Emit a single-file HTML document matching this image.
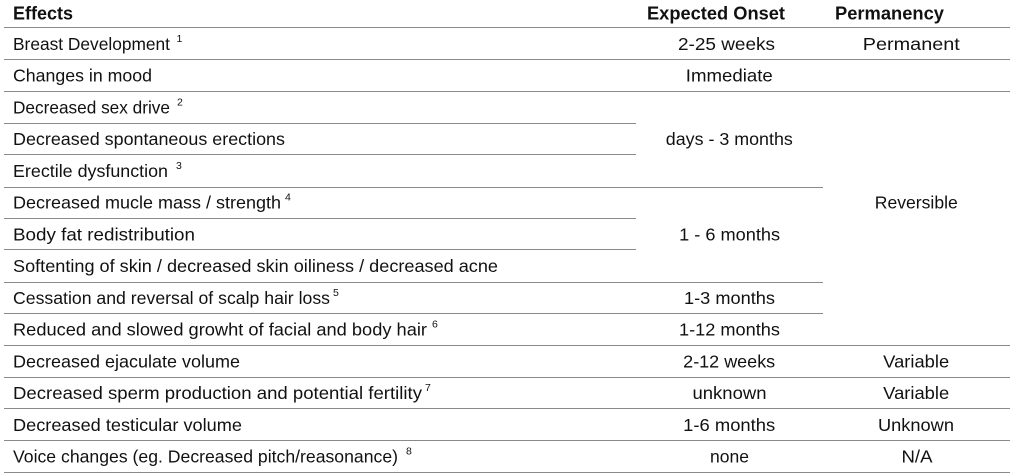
<!DOCTYPE html>
<html><head><meta charset="utf-8"><style>
html,body{margin:0;padding:0;background:#fff;}
svg{display:block;}
text{font-family:"Liberation Sans",Arial,sans-serif;font-size:17.5px;fill:#111;}
.h{font-weight:bold;font-size:18px;}
.m{text-anchor:middle;}
.s{font-size:10.5px;}
line{stroke:#8a8a8a;stroke-width:1;}
</style></head><body>
<svg width="1024" height="476" viewBox="0 0 1024 476" xmlns="http://www.w3.org/2000/svg">
<g>
<line x1="4" y1="27.5" x2="1010" y2="27.5"/>
<line x1="4" y1="59.5" x2="1010" y2="59.5"/>
<line x1="4" y1="91.5" x2="1010" y2="91.5"/>
<line x1="4" y1="123.5" x2="636" y2="123.5"/>
<line x1="4" y1="154.5" x2="636" y2="154.5"/>
<line x1="4" y1="187.5" x2="823" y2="187.5"/>
<line x1="4" y1="218.5" x2="636" y2="218.5"/>
<line x1="4" y1="249.5" x2="636" y2="249.5"/>
<line x1="4" y1="282.5" x2="823" y2="282.5"/>
<line x1="4" y1="313.5" x2="823" y2="313.5"/>
<line x1="4" y1="345.5" x2="1010" y2="345.5"/>
<line x1="4" y1="377.5" x2="1010" y2="377.5"/>
<line x1="4" y1="408.5" x2="1010" y2="408.5"/>
<line x1="4" y1="440.5" x2="1010" y2="440.5"/>
<line x1="4" y1="472.5" x2="1010" y2="472.5"/>
</g>
<text class="h" x="13" y="19.5" textLength="60" lengthAdjust="spacingAndGlyphs">Effects</text>
<text class="h" x="647" y="19.5" textLength="138" lengthAdjust="spacingAndGlyphs">Expected Onset</text>
<text class="h" x="835" y="19.5" textLength="109" lengthAdjust="spacingAndGlyphs">Permanency</text>

<text x="13" y="50" textLength="157" lengthAdjust="spacingAndGlyphs">Breast Development</text>
<text class="s" x="176.5" y="42">1</text>
<text x="13" y="81.7" textLength="139" lengthAdjust="spacingAndGlyphs">Changes in mood</text>
<text x="13" y="113.5" textLength="157" lengthAdjust="spacingAndGlyphs">Decreased sex drive</text>
<text class="s" x="177" y="105.5">2</text>
<text x="13" y="145.2" textLength="272" lengthAdjust="spacingAndGlyphs">Decreased spontaneous erections</text>
<text x="13" y="177" textLength="155" lengthAdjust="spacingAndGlyphs">Erectile dysfunction</text>
<text class="s" x="176" y="169">3</text>
<text x="13" y="208.7" textLength="268" lengthAdjust="spacingAndGlyphs">Decreased mucle mass / strength</text>
<text class="s" x="285" y="200.7">4</text>
<text x="13" y="240.4" textLength="182" lengthAdjust="spacingAndGlyphs">Body fat redistribution</text>
<text x="13" y="272.2" textLength="485" lengthAdjust="spacingAndGlyphs">Softenting of skin / decreased skin oiliness / decreased acne</text>
<text x="13" y="303.9" textLength="317" lengthAdjust="spacingAndGlyphs">Cessation and reversal of scalp hair loss</text>
<text class="s" x="333" y="295.9">5</text>
<text x="13" y="335.7" textLength="414" lengthAdjust="spacingAndGlyphs">Reduced and slowed growht of facial and body hair</text>
<text class="s" x="432" y="327.7">6</text>
<text x="13" y="367.4" textLength="227" lengthAdjust="spacingAndGlyphs">Decreased ejaculate volume</text>
<text x="13" y="399.1" textLength="409" lengthAdjust="spacingAndGlyphs">Decreased sperm production and potential fertility</text>
<text class="s" x="425" y="391.1">7</text>
<text x="13" y="430.9" textLength="229" lengthAdjust="spacingAndGlyphs">Decreased testicular volume</text>
<text x="13" y="462.6" textLength="385" lengthAdjust="spacingAndGlyphs">Voice changes (eg. Decreased pitch/reasonance)</text>
<text class="s" x="406" y="454.6">8</text>

<text class="m" x="726.5" y="50" textLength="97" lengthAdjust="spacingAndGlyphs">2-25 weeks</text>
<text class="m" x="729.3" y="81.7" textLength="87" lengthAdjust="spacingAndGlyphs">Immediate</text>
<text class="m" x="729.3" y="145.2" textLength="127" lengthAdjust="spacingAndGlyphs">days - 3 months</text>
<text class="m" x="729.6" y="240.4" textLength="101" lengthAdjust="spacingAndGlyphs">1 - 6 months</text>
<text class="m" x="729.5" y="303.9" textLength="91" lengthAdjust="spacingAndGlyphs">1-3 months</text>
<text class="m" x="729.5" y="335.7" textLength="101" lengthAdjust="spacingAndGlyphs">1-12 months</text>
<text class="m" x="729.2" y="367.4" textLength="92" lengthAdjust="spacingAndGlyphs">2-12 weeks</text>
<text class="m" x="729.5" y="399.1" textLength="74" lengthAdjust="spacingAndGlyphs">unknown</text>
<text class="m" x="729.2" y="430.9" textLength="92" lengthAdjust="spacingAndGlyphs">1-6 months</text>
<text class="m" x="729.5" y="462.6" textLength="39" lengthAdjust="spacingAndGlyphs">none</text>

<text class="m" x="911.3" y="50" textLength="97" lengthAdjust="spacingAndGlyphs">Permanent</text>
<text class="m" x="916.3" y="208.7" textLength="83" lengthAdjust="spacingAndGlyphs">Reversible</text>
<text class="m" x="916.2" y="367.4" textLength="66" lengthAdjust="spacingAndGlyphs">Variable</text>
<text class="m" x="916.2" y="399.1" textLength="66" lengthAdjust="spacingAndGlyphs">Variable</text>
<text class="m" x="916" y="430.9" textLength="76" lengthAdjust="spacingAndGlyphs">Unknown</text>
<text class="m" x="917" y="462.6" textLength="31" lengthAdjust="spacingAndGlyphs">N/A</text>
</svg>
</body></html>
